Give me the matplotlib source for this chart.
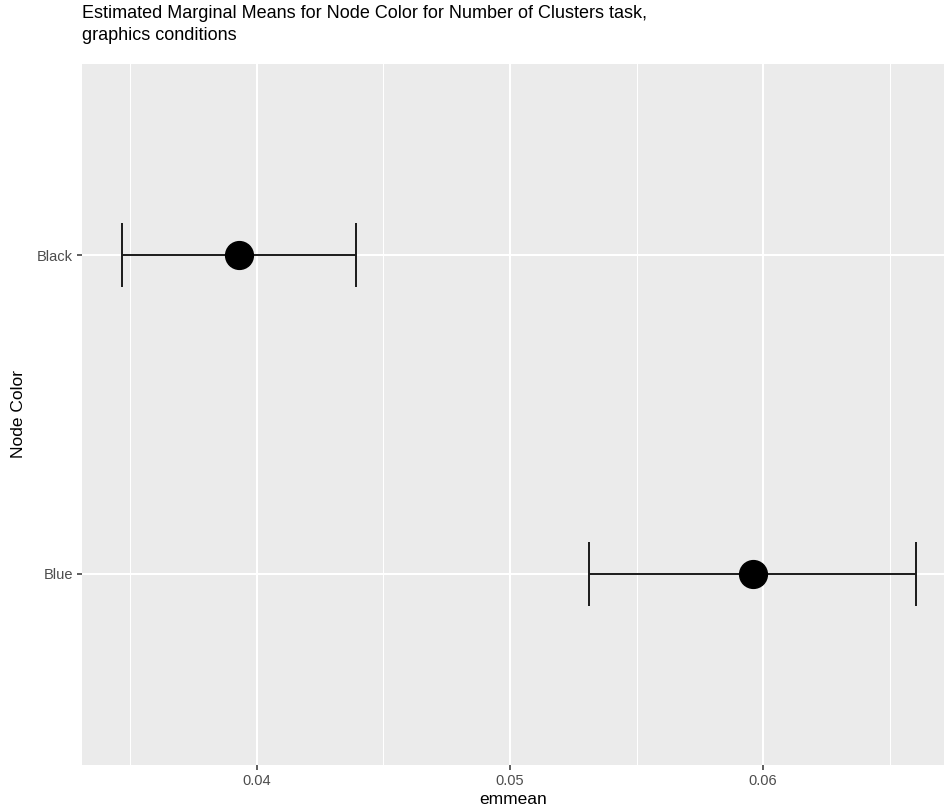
import matplotlib.pyplot as plt
from matplotlib.ticker import MultipleLocator

plt.rcParams['font.family'] = ['Liberation Sans', 'DejaVu Sans']

# estimated marginal means with confidence limits
colors = ['Blue', 'Black']
emmean = [0.0596, 0.0393]
lower_cl = [0.05314, 0.03467]
upper_cl = [0.06604, 0.04394]

fig = plt.figure(figsize=(9.45, 8.11), dpi=100)
ax = fig.add_axes([82 / 945, 1 - 765 / 811, 1 - 82 / 945, (765 - 64) / 811])
ax.set_facecolor('#EBEBEB')

ypos = list(range(1, len(colors) + 1))

# whiskers and caps
ax.hlines(ypos, lower_cl, upper_cl, color='#1a1a1a', lw=1.4, zorder=3)
ax.vlines(lower_cl, [y - 0.1 for y in ypos], [y + 0.1 for y in ypos], color='#1a1a1a', lw=1.4, zorder=3)
ax.vlines(upper_cl, [y - 0.1 for y in ypos], [y + 0.1 for y in ypos], color='#1a1a1a', lw=1.4, zorder=3)
ax.plot(emmean, ypos, 'o', color='black', markersize=20, zorder=4)

ax.set_xlim(0.0331, 0.06718)
ax.set_ylim(0.4, 2.6)
ax.xaxis.set_major_locator(MultipleLocator(0.01))
ax.xaxis.set_minor_locator(MultipleLocator(0.005))
ax.set_xticks([0.04, 0.05, 0.06])
ax.set_xticklabels(['0.04', '0.05', '0.06'])
ax.set_yticks(ypos)
ax.set_yticklabels(colors)

ax.grid(which='major', color='white', lw=1.5)
ax.grid(which='minor', axis='x', color='white', lw=0.75)
ax.set_axisbelow(True)
for s in ax.spines.values():
    s.set_visible(False)

ax.tick_params(axis='both', which='major', length=3.5, width=1.1, color='#333333',
               labelcolor='#4D4D4D', labelsize=10.5, pad=3)
ax.tick_params(axis='both', which='minor', length=0)

ax.set_xlabel('emmean', fontsize=12.5, labelpad=3)
ax.set_ylabel('Node Color', fontsize=12.5, labelpad=8)

fig.text(82 / 945, 1 - 5 / 811,
         'Estimated Marginal Means for Node Color for Number of Clusters task,\ngraphics conditions',
         fontsize=13, ha='left', va='top', linespacing=1.35)

fig.savefig('out.png', dpi=100)
